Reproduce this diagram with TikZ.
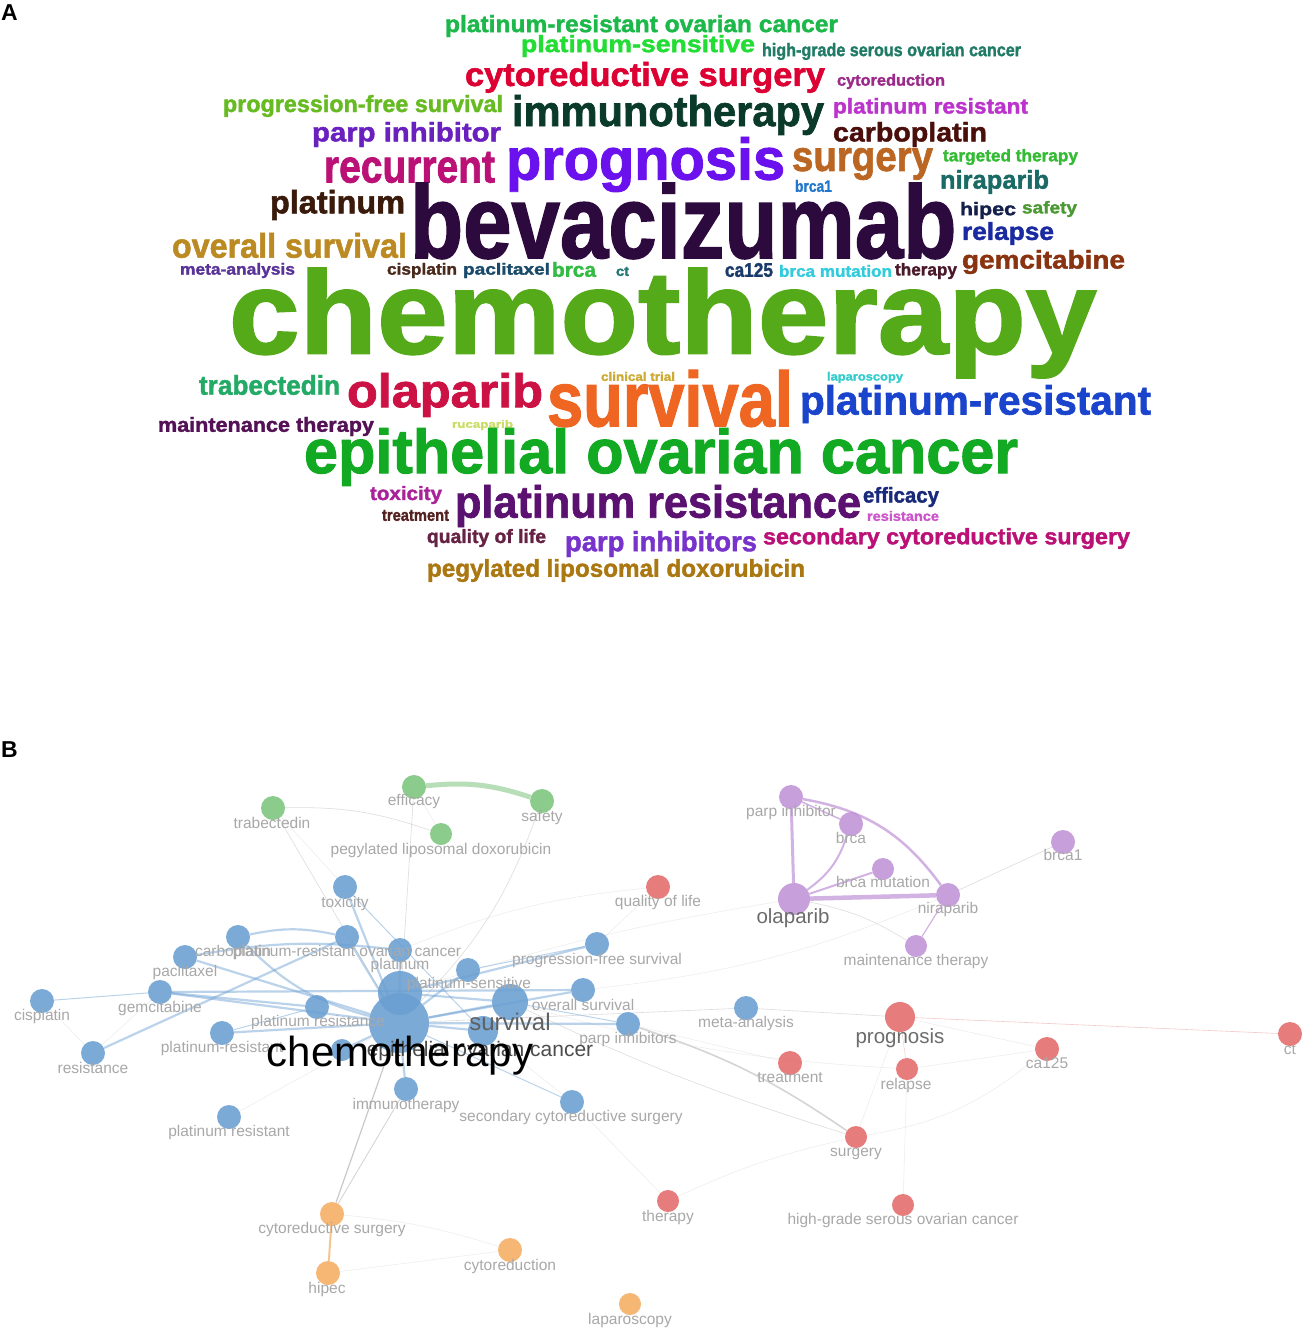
\documentclass[tikz,border=0pt]{standalone}
\usepackage{fontspec}
\setmainfont{Liberation Sans}
\newfontfamily\wcfont{Liberation Sans}[BoldFeatures={FakeBold=1.6}]
\usepackage{graphicx}
\pgfdeclarelayer{back}\pgfdeclarelayer{edges}
\pgfsetlayers{back,edges,main}
\definecolor{nblue}{HTML}{6A9FD2}
\definecolor{ngreen}{HTML}{7CC47C}
\definecolor{npurple}{HTML}{C092D6}
\definecolor{nred}{HTML}{E46A6A}
\definecolor{norange}{HTML}{F5AE62}
\definecolor{labgray}{HTML}{A8A8A8}
\newcommand\wcw[7]{\node[wcnode] (#1) at (#2,#5) {\color[HTML]{#6}\resizebox*{\dimexpr #4pt-#2pt\relax}{\dimexpr #5pt-#3pt\relax}{\wcfont\bfseries #7}};}
\tikzset{
  wcnode/.style={anchor=south west, inner sep=0pt, outer sep=0pt},
  nd/.style={circle, inner sep=0pt, fill=#1, fill opacity=0.88, minimum size=24pt},
  lab/.style={anchor=mid, inner sep=0pt, text=labgray, font=\fontsize{15.5}{16}\selectfont},
  biglab/.style={anchor=mid, inner sep=0pt, text=#1},
  panel/.style={anchor=north west, inner sep=0pt, font=\bfseries\fontsize{23}{23}\selectfont},
  gry/.style={draw=gray!45, line width=0.6pt, opacity=0.6},
  fnt/.style={draw=gray!30, line width=0.5pt, opacity=0.5},
  bedge/.style={draw=nblue, line width=2.2pt, opacity=0.45},
  bthin/.style={draw=nblue, line width=1.0pt, opacity=0.45},
  pedge/.style={draw=npurple, line width=#1, opacity=0.7},
  gedge/.style={draw=ngreen, line width=5pt, opacity=0.55},
  oedge/.style={draw=norange, line width=2pt, opacity=0.7},
}
\begin{document}
\begin{tikzpicture}[x=1pt,y=-1pt]
\begin{pgfonlayer}{back}
\fill[white] (0,0) rectangle (1312,1332);
\end{pgfonlayer}
\useasboundingbox (0,0) rectangle (1312,1332);
\node[panel] (pa) at (1,4) {A};
\node[panel] (pb) at (1,741) {B};
% ---------------- word cloud ----------------
\wcw{w1}{445}{15}{838}{37}{1DB84A}{platinum-resistant ovarian cancer}
\wcw{w2}{521}{35}{755}{57}{22DD33}{platinum-sensitive}
\wcw{w3}{762}{43}{1021}{60}{1F7A66}{high-grade serous ovarian cancer}
\wcw{w4}{465}{62}{825}{93}{DD0033}{cytoreductive surgery}
\wcw{w5}{837}{74}{945}{89}{9B2A8A}{cytoreduction}
\wcw{w6}{223}{95}{503}{117}{66BB22}{progression-free survival}
\wcw{w7}{512}{95}{824}{135}{0A3A2A}{immunotherapy}
\wcw{w8}{833}{98}{1028}{118}{BB33CC}{platinum resistant}
\wcw{w9}{312}{122}{501}{147}{6A1FBF}{parp inhibitor}
\wcw{w10}{833}{122}{987}{147}{4A0F0A}{carboplatin}
\wcw{w11}{324}{152}{495}{183}{BB1177}{recurrent}
\wcw{w12}{506}{137}{785}{192}{6A11EE}{prognosis}
\wcw{w13}{792}{148}{933}{180}{BB6622}{surgery}
\wcw{w14}{943}{149}{1078}{165}{33BB33}{targeted therapy}
\wcw{w15}{795}{180}{832}{192}{2277CC}{brca1}
\wcw{w16}{940}{170}{1049}{194}{1A6A66}{niraparib}
\wcw{w17}{270}{190}{405}{220}{3A1A0A}{platinum}
\wcw{w18}{410}{183}{956}{259}{2D0A3D}{bevacizumab}
\wcw{w19}{960}{202}{1016}{219}{15204A}{hipec}
\wcw{w20}{1022}{201}{1077}{217}{4A9933}{safety}
\wcw{w21}{962}{222}{1054}{245}{1A2AA0}{relapse}
\wcw{w22}{172}{233}{407}{258}{BB8A22}{overall survival}
\wcw{w23}{180}{263}{295}{278}{5A3399}{meta-analysis}
\wcw{w24}{387}{263}{457}{278}{4A2A1A}{cisplatin}
\wcw{w25}{463}{263}{550}{278}{1A4A6A}{paclitaxel}
\wcw{w26}{552}{262}{596}{277}{33BB44}{brca}
\wcw{w27}{616}{267}{629}{276}{227777}{ct}
\wcw{w28}{725}{263}{773}{277}{1A3A6A}{ca125}
\wcw{w29}{779}{265}{892}{277}{33CCDD}{brca mutation}
\wcw{w30}{895}{263}{957}{279}{4A1A2A}{therapy}
\wcw{w31}{962}{250}{1125}{274}{8A3311}{gemcitabine}
\wcw{w32}{229}{268}{1096}{378}{55AA1A}{chemotherapy}
\wcw{w33}{199}{375}{340}{395}{22AA66}{trabectedin}
\wcw{w34}{601}{372}{675}{381}{CCAA33}{clinical trial}
\wcw{w35}{827}{372}{903}{383}{33CCCC}{laparoscopy}
\wcw{w36}{347}{373}{543}{417}{CC1144}{olaparib}
\wcw{w37}{547}{370}{793}{427}{EE6622}{survival}
\wcw{w38}{800}{385}{1151}{423}{1A44CC}{platinum-resistant}
\wcw{w39}{158}{417}{374}{436}{551155}{maintenance therapy}
\wcw{w40}{452}{420}{513}{430}{CCDD66}{rucaparib}
\wcw{w41}{304}{428}{1018}{486}{11AA22}{epithelial ovarian cancer}
\wcw{w42}{370}{486}{442}{504}{AA2299}{toxicity}
\wcw{w43}{382}{510}{449}{521}{552222}{treatment}
\wcw{w44}{455}{485}{861}{527}{5A1170}{platinum resistance}
\wcw{w45}{863}{487}{939}{507}{1A2A7A}{efficacy}
\wcw{w46}{867}{511}{939}{521}{CC55CC}{resistance}
\wcw{w47}{427}{529}{546}{547}{662244}{quality of life}
\wcw{w48}{565}{531}{757}{557}{7733CC}{parp inhibitors}
\wcw{w49}{763}{528}{1130}{549}{BB1177}{secondary cytoreductive surgery}
\wcw{w50}{427}{559}{805}{582}{AA7711}{pegylated liposomal doxorubicin}
% ---------------- network nodes ----------------
\node[nd=ngreen] (eff) at (414,787) {};
\node[nd=ngreen] (trab) at (273,808) {};
\node[nd=ngreen] (safe) at (542,801) {};
\node[nd=ngreen, minimum size=22pt] (pld) at (441,834) {};
\node[nd=npurple] (parpi) at (791,797) {};
\node[nd=npurple] (brca) at (851,824) {};
\node[nd=npurple, minimum size=22pt] (brcamut) at (883,869) {};
\node[nd=npurple] (nira) at (948,895) {};
\node[nd=npurple, minimum size=32pt] (ola) at (794,899) {};
\node[nd=npurple, minimum size=22pt] (maint) at (916,946) {};
\node[nd=npurple] (brcaone) at (1063,842) {};
\node[nd=nred] (qol) at (658,887) {};
\node[nd=nred, minimum size=30pt] (prog) at (900,1017) {};
\node[nd=nred] (treat) at (790,1063) {};
\node[nd=nred, minimum size=22pt] (relapse) at (907,1069) {};
\node[nd=nred] (cafive) at (1047,1049) {};
\node[nd=nred] (ct) at (1290,1034) {};
\node[nd=nred, minimum size=22pt] (surg) at (856,1137) {};
\node[nd=nred, minimum size=22pt] (ther) at (668,1201) {};
\node[nd=nred, minimum size=22pt] (hgsoc) at (903,1205) {};
\node[nd=norange] (cytosurg) at (332,1214) {};
\node[nd=norange] (hipec) at (328,1273) {};
\node[nd=norange] (cytored) at (510,1250) {};
\node[nd=norange, minimum size=22pt] (lap) at (630,1304) {};
\node[nd=nblue] (tox) at (345,887) {};
\node[nd=nblue] (carbo) at (238,937) {};
\node[nd=nblue] (proc) at (347,937) {};
\node[nd=nblue] (plat) at (400,950) {};
\node[nd=nblue] (pacl) at (185,957) {};
\node[nd=nblue] (gem) at (160,992) {};
\node[nd=nblue] (cis) at (42,1001) {};
\node[nd=nblue] (res) at (93,1053) {};
\node[nd=nblue] (pres) at (222,1033) {};
\node[nd=nblue] (presn) at (317,1007) {};
\node[nd=nblue, minimum size=22pt] (unk) at (342,1050) {};
\node[nd=nblue] (psens) at (468,970) {};
\node[nd=nblue] (pfs) at (597,944) {};
\node[nd=nblue] (os) at (583,990) {};
\node[nd=nblue] (parpis) at (628,1024) {};
\node[nd=nblue] (meta) at (746,1008) {};
\node[nd=nblue] (immuno) at (406,1089) {};
\node[nd=nblue] (scs) at (572,1102) {};
\node[nd=nblue] (presd) at (229,1117) {};
\node[nd=nblue, minimum size=30pt] (eoc) at (483,1031) {};
\node[nd=nblue, minimum size=36pt] (surv) at (510,1002) {};
\node[nd=nblue, minimum size=44pt] (bev) at (400,993) {};
\node[nd=nblue, minimum size=60pt] (chemo) at (399,1023) {};
% ---------------- edges ----------------
\begin{pgfonlayer}{edges}
\draw[gedge] (eff) to[bend left=12] (safe);
\draw[gry] (trab) to[bend left=10] (pld);
\draw[gry] (trab) -- (chemo);
\draw[gry] (eff) -- (chemo);
\draw[fnt] (eff) -- (pld);
\draw[gry] (safe) to[bend left=12] (chemo);
\draw[fnt] (trab) -- (tox);
\draw[pedge=3pt] (ola) -- (parpi);
\draw[pedge=2.5pt] (parpi) to[bend left=22] (nira);
\draw[pedge=4.5pt] (ola) -- (nira);
\draw[pedge=2pt] (ola) to[bend right=18] (brca);
\draw[pedge=2pt] (ola) -- (brcamut);
\draw[pedge=1.5pt] (parpi) -- (brca);
\draw[pedge=1.2pt] (nira) -- (maint);
\draw[gry] (ola) to[bend left=10] (maint);
\draw[gry] (nira) -- (brcaone);
\draw[fnt] (ola) to[bend right=4] (bev);
\draw[fnt] (nira) to[bend left=8] (os);
\draw[fnt] (qol) -- (pfs);
\draw[fnt] (qol) to[bend right=8] (plat);
\draw[gry] (chemo) -- (meta);
\draw[gry] (meta) -- (prog);
\draw[draw=nred!60, line width=0.6pt, opacity=0.6] (prog) -- (ct);
\draw[draw=gray!55, line width=1.6pt, opacity=0.6] (parpis) to[bend left=8] (surg);
\draw[gry] (surv) to[bend right=4] (surg);
\draw[fnt] (prog) -- (surg);
\draw[draw=nred!50, line width=0.6pt, opacity=0.6] (prog) -- (relapse);
\draw[fnt] (relapse) -- (hgsoc);
\draw[fnt] (relapse) -- (cafive);
\draw[fnt] (surg) to[bend right=15] (cafive);
\draw[fnt] (prog) -- (cafive);
\draw[fnt] (surv) to[bend right=6] (relapse);
\draw[fnt] (scs) -- (ther);
\draw[fnt] (ther) to[bend left=6] (surg);
\draw[fnt] (treat) -- (parpis);
\draw[draw=gray!60, line width=1.2pt, opacity=0.7] (chemo) -- (cytosurg);
\draw[draw=gray!50, line width=0.8pt, opacity=0.7] (immuno) -- (cytosurg);
\draw[oedge] (cytosurg) -- (hipec);
\draw[fnt] (cytosurg) to[bend left=6] (cytored);
\draw[fnt] (hipec) -- (cytored);
\draw[bedge] (chemo) -- (gem);
\draw[bedge] (gem) -- (os);
\draw[bedge] (chemo) -- (pacl);
\draw[bedge] (chemo) to[bend left=15] (carbo);
\draw[bedge] (carbo) to[bend left=12] (proc);
\draw[bedge] (pacl) to[bend left=8] (plat);
\draw[bedge] (chemo) -- (pres);
\draw[bedge] (gem) -- (presn);
\draw[bedge] (chemo) -- (tox);
\draw[bedge] (chemo) -- (proc);
\draw[bedge] (chemo) -- (plat);
\draw[bedge] (chemo) -- (psens);
\draw[bedge] (chemo) -- (surv);
\draw[bedge] (chemo) -- (os);
\draw[bedge] (chemo) -- (parpis);
\draw[bedge] (chemo) -- (immuno);
\draw[bedge] (chemo) -- (eoc);
\draw[bedge] (chemo) -- (unk);
\draw[bedge] (bev) -- (surv);
\draw[bedge] (bev) -- (pfs);
\draw[bedge] (res) -- (proc);
\draw[bthin] (cis) -- (gem);
\draw[bthin] (tox) -- (eoc);
\draw[bthin] (pres) -- (presn);
\draw[bthin] (chemo) -- (scs);
\draw[bthin] (psens) -- (pfs);
\draw[bthin] (surv) -- (parpis);
\draw[fnt] (res) -- (gem);
\draw[fnt] (presd) -- (chemo);
\draw[fnt] (cis) -- (res);
\draw[fnt] (scs) -- (eoc);
\end{pgfonlayer}
% ---------------- labels ----------------
\node[lab] (t1) at (414,803) {efficacy};
\node[lab] (t2) at (272,826) {trabectedin};
\node[lab] (t3) at (542,819) {safety};
\node[lab] (t4) at (441,852) {pegylated liposomal doxorubicin};
\node[lab] (t5) at (791,814) {parp inhibitor};
\node[lab] (t6) at (851,841) {brca};
\node[lab] (t7) at (883,885) {brca mutation};
\node[lab] (t8) at (948,911) {niraparib};
\node[biglab=gray!85!black, font=\fontsize{20.5}{21}\selectfont] (t9) at (793,921) {olaparib};
\node[lab] (t10) at (916,963) {maintenance therapy};
\node[lab] (t11) at (1063,858) {brca1};
\node[lab] (t12) at (658,904) {quality of life};
\node[biglab=gray!85!black, font=\fontsize{20.5}{21}\selectfont] (t13) at (900,1041) {prognosis};
\node[lab] (t14) at (790,1080) {treatment};
\node[lab] (t15) at (906,1087) {relapse};
\node[lab] (t16) at (1047,1066) {ca125};
\node[lab] (t17) at (1290,1052) {ct};
\node[lab] (t18) at (856,1154) {surgery};
\node[lab] (t19) at (668,1219) {therapy};
\node[lab] (t20) at (903,1222) {high-grade serous ovarian cancer};
\node[lab] (t21) at (332,1231) {cytoreductive surgery};
\node[lab] (t22) at (327,1291) {hipec};
\node[lab] (t23) at (510,1268) {cytoreduction};
\node[lab] (t24) at (630,1322) {laparoscopy};
\node[lab] (t25) at (345,905) {toxicity};
\node[lab] (t26) at (233,954) {carboplatin};
\node[lab] (t27) at (347,954) {platinum-resistant ovarian cancer};
\node[lab] (t28) at (400,967) {platinum};
\node[lab] (t29) at (185,974) {paclitaxel};
\node[lab] (t30) at (160,1010) {gemcitabine};
\node[lab] (t31) at (42,1018) {cisplatin};
\node[lab] (t32) at (93,1071) {resistance};
\node[lab] (t33) at (222,1050) {platinum-resistant};
\node[lab] (t34) at (318,1024) {platinum resistance};
\node[lab] (t35) at (469,986) {platinum-sensitive};
\node[lab] (t36) at (583,1008) {overall survival};
\node[lab] (t37) at (597,962) {progression-free survival};
\node[lab] (t38) at (628,1041) {parp inhibitors};
\node[lab] (t39) at (746,1025) {meta-analysis};
\node[lab] (t40) at (406,1107) {immunotherapy};
\node[lab] (t41) at (571,1119) {secondary cytoreductive surgery};
\node[lab] (t42) at (229,1134) {platinum resistant};
\node[biglab=gray!60!black, font=\fontsize{21}{22}\selectfont] (t43) at (480,1054) {epithelial ovarian cancer};
\node[biglab=gray!75!black, font=\fontsize{24}{25}\selectfont] (t44) at (510,1028) {survival};
\node[biglab=black, font=\fontsize{42}{43}\selectfont] (t45) at (400,1064) {chemotherapy};
\end{tikzpicture}
\end{document}
